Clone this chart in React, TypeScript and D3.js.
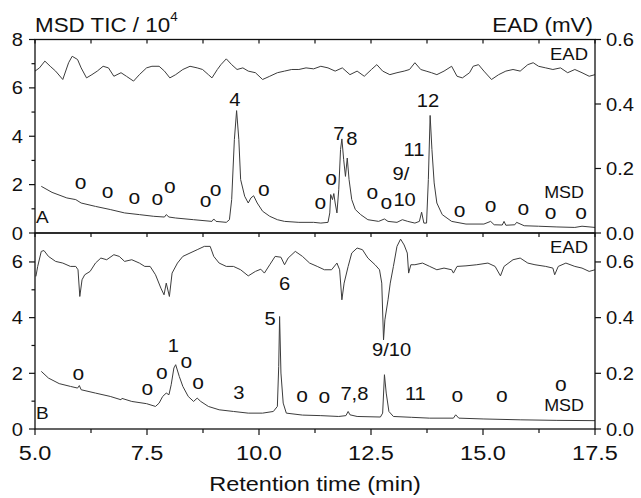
import React from "react";
import * as d3 from "d3";

const W = 641;
const H = 498;
const SX = 1.12; // the source lettering is a bit wider than Arial
const FONT = "'Liberation Sans', Arial, sans-serif";

// retention time (min), value. MSD in 10^4 counts, EAD in mV
const msdA: [number, number][] = [
  [5.14, 1.93], [5.38, 1.68], [5.71, 1.45], [5.91, 1.38], [6.03, 1.24], [6.35, 1.1], [6.68, 0.97],
  [7.0, 0.83], [7.33, 0.76], [7.65, 0.69], [7.89, 0.66], [7.93, 0.76], [7.99, 0.66], [8.14, 0.62],
  [8.54, 0.55], [8.95, 0.48], [8.99, 0.58], [9.04, 0.48], [9.27, 0.44], [9.34, 0.55], [9.39, 1.38],
  [9.45, 3.86], [9.5, 5.06], [9.55, 3.86], [9.59, 2.21], [9.68, 1.52], [9.76, 1.24], [9.82, 1.45],
  [9.88, 1.54], [9.96, 1.24], [10.08, 0.9], [10.24, 0.69], [10.41, 0.55], [10.57, 0.48], [10.89, 0.44],
  [11.22, 0.44], [11.38, 0.41], [11.54, 0.44], [11.58, 0.83], [11.6, 1.59], [11.64, 1.38], [11.67, 1.63],
  [11.7, 1.24], [11.74, 0.83], [11.78, 1.79], [11.82, 3.45], [11.85, 3.89], [11.89, 3.03], [11.93, 2.34],
  [11.97, 3.1], [12.01, 2.21], [12.07, 1.38], [12.15, 0.97], [12.27, 0.76], [12.43, 0.55], [12.67, 0.48],
  [12.8, 0.58], [12.88, 0.48], [13.08, 0.44], [13.2, 0.55], [13.32, 0.48], [13.48, 0.41], [13.58, 0.48],
  [13.63, 0.86], [13.68, 0.41], [13.74, 0.41], [13.78, 2.21], [13.82, 4.86], [13.86, 3.45], [13.91, 2.07],
  [13.97, 1.24], [14.09, 0.76], [14.3, 0.48], [14.62, 0.37], [15.02, 0.37], [15.17, 0.48], [15.25, 0.34],
  [15.43, 0.33], [15.47, 0.48], [15.51, 0.32], [15.71, 0.34], [15.75, 0.44], [15.92, 0.3], [16.24, 0.28],
  [16.65, 0.25], [17.05, 0.23], [17.21, 0.28], [17.5, 0.23],
];

const eadA: [number, number][] = [
  [5.0, 0.502], [5.1, 0.512], [5.22, 0.533], [5.34, 0.517], [5.46, 0.502], [5.62, 0.476], [5.75, 0.528],
  [5.83, 0.548], [5.95, 0.538], [6.03, 0.512], [6.15, 0.481], [6.27, 0.491], [6.39, 0.502], [6.52, 0.517],
  [6.64, 0.512], [6.76, 0.486], [6.92, 0.497], [7.04, 0.486], [7.2, 0.471], [7.33, 0.491], [7.49, 0.512],
  [7.61, 0.517], [7.77, 0.517], [7.89, 0.502], [8.01, 0.481], [8.14, 0.491], [8.3, 0.507], [8.46, 0.517],
  [8.62, 0.512], [8.74, 0.507], [8.87, 0.491], [8.95, 0.481], [9.07, 0.507], [9.15, 0.522], [9.27, 0.54],
  [9.39, 0.522], [9.51, 0.507], [9.64, 0.512], [9.76, 0.502], [9.92, 0.497], [10.08, 0.476], [10.24, 0.486],
  [10.41, 0.497], [10.57, 0.502], [10.73, 0.507], [10.89, 0.507], [11.05, 0.512], [11.22, 0.509],
  [11.38, 0.517], [11.54, 0.512], [11.7, 0.502], [11.86, 0.512], [12.03, 0.491], [12.19, 0.502],
  [12.35, 0.486], [12.51, 0.507], [12.63, 0.522], [12.76, 0.502], [12.92, 0.491], [13.08, 0.497],
  [13.24, 0.502], [13.36, 0.507], [13.48, 0.528], [13.61, 0.507], [13.73, 0.502], [13.85, 0.497],
  [13.97, 0.491], [14.13, 0.502], [14.3, 0.517], [14.42, 0.486], [14.54, 0.481], [14.7, 0.497],
  [14.78, 0.517], [14.9, 0.522], [15.02, 0.502], [15.19, 0.476], [15.35, 0.491], [15.51, 0.502],
  [15.67, 0.507], [15.83, 0.502], [16.0, 0.522], [16.12, 0.528], [16.24, 0.517], [16.4, 0.512],
  [16.56, 0.507], [16.73, 0.512], [16.89, 0.497], [17.05, 0.507], [17.21, 0.497], [17.37, 0.486], [17.5, 0.491],
];

const msdB: [number, number][] = [
  [5.14, 2.07], [5.3, 1.83], [5.54, 1.63], [5.79, 1.53], [5.95, 1.47], [5.99, 1.56], [6.03, 1.41],
  [6.35, 1.29], [6.68, 1.17], [6.92, 1.05], [6.94, 1.1], [7.16, 0.99], [7.49, 0.91], [7.69, 0.81],
  [7.77, 0.93], [7.85, 1.17], [7.93, 1.29], [7.99, 1.23], [8.04, 1.59], [8.1, 2.19], [8.14, 2.31],
  [8.22, 1.89], [8.3, 1.53], [8.42, 1.17], [8.54, 0.99], [8.62, 1.11], [8.7, 0.99], [8.87, 0.81],
  [9.11, 0.69], [9.43, 0.63], [9.76, 0.57], [10.08, 0.57], [10.32, 0.63], [10.41, 0.81], [10.44, 2.25],
  [10.46, 4.04], [10.49, 2.01], [10.54, 0.93], [10.61, 0.57], [10.97, 0.5], [11.38, 0.48], [11.78, 0.45],
  [11.94, 0.48], [11.99, 0.63], [12.03, 0.51], [12.19, 0.45], [12.71, 0.43], [12.76, 0.57], [12.8, 1.95],
  [12.84, 1.29], [12.9, 0.63], [13.0, 0.45], [13.4, 0.42], [13.81, 0.39], [14.34, 0.39], [14.39, 0.51],
  [14.46, 0.39], [15.02, 0.36], [15.83, 0.33], [16.65, 0.31], [17.5, 0.3],
];

const eadB: [number, number][] = [
  [5.02, 0.548], [5.06, 0.584], [5.14, 0.638], [5.2, 0.641], [5.3, 0.62], [5.46, 0.602], [5.62, 0.596],
  [5.79, 0.584], [5.91, 0.584], [5.96, 0.572], [6.0, 0.476], [6.05, 0.536], [6.11, 0.554], [6.23, 0.566],
  [6.35, 0.596], [6.47, 0.614], [6.6, 0.608], [6.76, 0.626], [6.88, 0.62], [7.0, 0.602], [7.16, 0.608],
  [7.33, 0.596], [7.45, 0.584], [7.57, 0.584], [7.69, 0.554], [7.81, 0.506], [7.88, 0.482], [7.93, 0.524],
  [8.0, 0.476], [8.06, 0.56], [8.18, 0.596], [8.3, 0.62], [8.46, 0.632], [8.62, 0.644], [8.78, 0.656],
  [8.91, 0.656], [8.99, 0.62], [9.11, 0.596], [9.27, 0.584], [9.43, 0.584], [9.59, 0.572], [9.76, 0.55],
  [9.92, 0.566], [10.04, 0.574], [10.12, 0.56], [10.24, 0.59], [10.36, 0.62], [10.49, 0.617], [10.57, 0.59],
  [10.65, 0.614], [10.81, 0.638], [10.97, 0.62], [11.13, 0.596], [11.3, 0.584], [11.46, 0.572],
  [11.62, 0.572], [11.74, 0.596], [11.8, 0.572], [11.85, 0.464], [11.9, 0.524], [11.99, 0.584],
  [12.07, 0.632], [12.19, 0.65], [12.31, 0.644], [12.43, 0.614], [12.59, 0.59], [12.69, 0.572],
  [12.74, 0.524], [12.78, 0.32], [12.81, 0.392], [12.88, 0.464], [12.93, 0.524], [13.0, 0.584],
  [13.08, 0.656], [13.16, 0.682], [13.24, 0.661], [13.31, 0.632], [13.34, 0.56], [13.39, 0.59],
  [13.48, 0.59], [13.65, 0.596], [13.81, 0.584], [13.97, 0.572], [14.13, 0.578], [14.3, 0.572],
  [14.34, 0.56], [14.42, 0.584], [14.62, 0.586], [14.86, 0.59], [15.11, 0.596], [15.27, 0.584],
  [15.39, 0.55], [15.47, 0.584], [15.67, 0.608], [15.83, 0.614], [16.0, 0.596], [16.16, 0.59],
  [16.4, 0.584], [16.56, 0.578], [16.6, 0.554], [16.68, 0.584], [16.85, 0.596], [17.05, 0.584],
  [17.21, 0.578], [17.37, 0.566], [17.5, 0.572],
];

// peak labels: text, time, value at the label's baseline
const peaksA: [string, number, number][] = [
  ["4", 9.46, 5.25], ["7", 11.78, 3.84], ["8", 12.07, 3.63], ["11", 13.46, 3.18],
  ["9/", 13.17, 2.19], ["10", 13.25, 1.12], ["12", 13.77, 5.22],
];
const peaksB: [string, number, number][] = [
  ["6", 10.57, 4.98], ["5", 10.25, 3.72], ["1", 8.09, 2.76], ["9/10", 12.96, 2.61],
  ["3", 9.55, 1.09], ["7,8", 12.13, 1.05], ["11", 13.49, 1.05],
];
// unmarked compounds ("o"): time, value at the centre of the mark
const otherA: [number, number][] = [
  [6.02, 2.05], [6.62, 1.67], [7.22, 1.43], [7.73, 1.36], [8.01, 1.87], [8.81, 1.29], [9.03, 1.74],
  [10.11, 1.74], [11.37, 1.23], [11.61, 2.22], [12.53, 1.61], [12.84, 1.23], [14.48, 0.88],
  [15.17, 1.09], [15.9, 0.98], [16.51, 0.81], [17.19, 0.81],
];
const otherB: [number, number][] = [
  [5.97, 1.95], [7.51, 1.41], [7.83, 1.97], [8.38, 2.39], [8.64, 1.63], [10.96, 1.15], [11.46, 1.12],
  [14.43, 1.17], [15.42, 1.17], [16.74, 1.55],
];

const xMajor = [5, 7.5, 10, 12.5, 15, 17.5];
const xMinor = [6.25, 8.75, 11.25, 13.75, 16.25];
const leftMajorA = [0, 2, 4, 6, 8];
const leftMinorA = [1, 3, 5, 7];
const leftMajorB = [0, 2, 4, 6];
const leftMinorB = [1, 3, 5];
const rightTicks = [0, 0.2, 0.4, 0.6];

const x = d3.scaleLinear().domain([5, 17.5]).range([35, 595]);

const T = ({ x, y, size, anchor = "middle", sx = SX, children }: any) => (
  <text
    transform={`translate(${x},${y}) scale(${sx},1)`}
    fontSize={size}
    textAnchor={anchor}
    fontFamily={FONT}
    fill="#111"
  >
    {children}
  </text>
);

function Panel({ top, bottom, leftMax, rightMax, msd, ead, peaks, others, leftMajor, leftMinor, tag, msdY }: any) {
  const yL = d3.scaleLinear().domain([0, leftMax]).range([bottom, top]);
  const yR = d3.scaleLinear().domain([0, rightMax]).range([bottom, top]);
  const lineL = d3.line<[number, number]>().x(d => x(d[0])).y(d => yL(d[1]));
  const lineR = d3.line<[number, number]>().x(d => x(d[0])).y(d => yR(d[1]));
  const [x0, x1] = x.range();

  return (
    <g>
      <path d={lineR(ead) || ""} fill="none" stroke="#3c3c3c" strokeWidth={1} />
      <path d={lineL(msd) || ""} fill="none" stroke="#3c3c3c" strokeWidth={1} />

      {/* frame */}
      <rect x={x0} y={top} width={x1 - x0} height={bottom - top} fill="none" stroke="#111" strokeWidth={1.3} />

      {/* ticks on the top edge, pointing in */}
      {[...xMajor, ...xMinor].map(t => (
        <line key={"tt" + t} x1={x(t)} x2={x(t)} y1={top} y2={top + 4} stroke="#111" strokeWidth={1.2} />
      ))}

      {leftMajor.map((v: number) => (
        <g key={"lm" + v}>
          <line x1={x0 - 6} x2={x0} y1={yL(v)} y2={yL(v)} stroke="#111" strokeWidth={1.2} />
          <T x={23} y={yL(v) + 6.5} size={18} anchor="end">{v}</T>
        </g>
      ))}
      {leftMinor.map((v: number) => (
        <line key={"ln" + v} x1={x0 - 3.5} x2={x0} y1={yL(v)} y2={yL(v)} stroke="#111" strokeWidth={1.2} />
      ))}
      {rightTicks.map(v => (
        <g key={"r" + v}>
          <line x1={x1} x2={x1 + 6} y1={yR(v)} y2={yR(v)} stroke="#111" strokeWidth={1.2} />
          <T x={606} y={yR(v) + 6.5} size={18} anchor="start">{v.toFixed(1)}</T>
        </g>
      ))}

      {peaks.map(([s, t, v]: [string, number, number], i: number) => (
        <T key={"p" + i} x={x(t)} y={yL(v)} size={18}>{s}</T>
      ))}
      {others.map(([t, v]: [number, number], i: number) => (
        <T key={"o" + i} x={x(t)} y={yL(v) + 5.3} size={20} sx={1.05}>o</T>
      ))}

      <T x={x1 - 7} y={top + 20} size={16.5} anchor="end">EAD</T>
      <T x={x1 - 11} y={msdY} size={16} anchor="end">MSD</T>
      <T x={x0 + 1} y={bottom - 10} size={17} anchor="start">{tag}</T>
    </g>
  );
}

export default function App() {
  const bottomB = 429;
  return (
    <svg width={W} height={H} style={{ position: "absolute", left: 0, top: 0, background: "#fff" }}>
      <Panel
        top={39.5} bottom={233} leftMax={8} rightMax={0.6}
        msd={msdA} ead={eadA} peaks={peaksA} others={otherA}
        leftMajor={leftMajorA} leftMinor={leftMinorA} tag="A" msdY={198}
      />
      <Panel
        top={233} bottom={bottomB} leftMax={7.04} rightMax={0.704}
        msd={msdB} ead={eadB} peaks={peaksB} others={otherB}
        leftMajor={leftMajorB} leftMinor={leftMinorB} tag="B" msdY={411}
      />

      {/* bottom time axis, ticks pointing out */}
      {xMajor.map(t => (
        <g key={"xm" + t}>
          <line x1={x(t)} x2={x(t)} y1={bottomB} y2={bottomB + 6} stroke="#111" strokeWidth={1.2} />
          <T x={x(t)} y={460} size={21}>{t.toFixed(1)}</T>
        </g>
      ))}
      {xMinor.map(t => (
        <line key={"xn" + t} x1={x(t)} x2={x(t)} y1={bottomB} y2={bottomB + 4} stroke="#111" strokeWidth={1.2} />
      ))}

      <T x={315} y={491} size={21}>Retention time (min)</T>
      <T x={35} y={32} size={20} anchor="start">
        MSD TIC / 10<tspan fontSize={12} dy={-11}>4</tspan>
      </T>
      <T x={593} y={32} size={20} anchor="end">EAD (mV)</T>
    </svg>
  );
}
